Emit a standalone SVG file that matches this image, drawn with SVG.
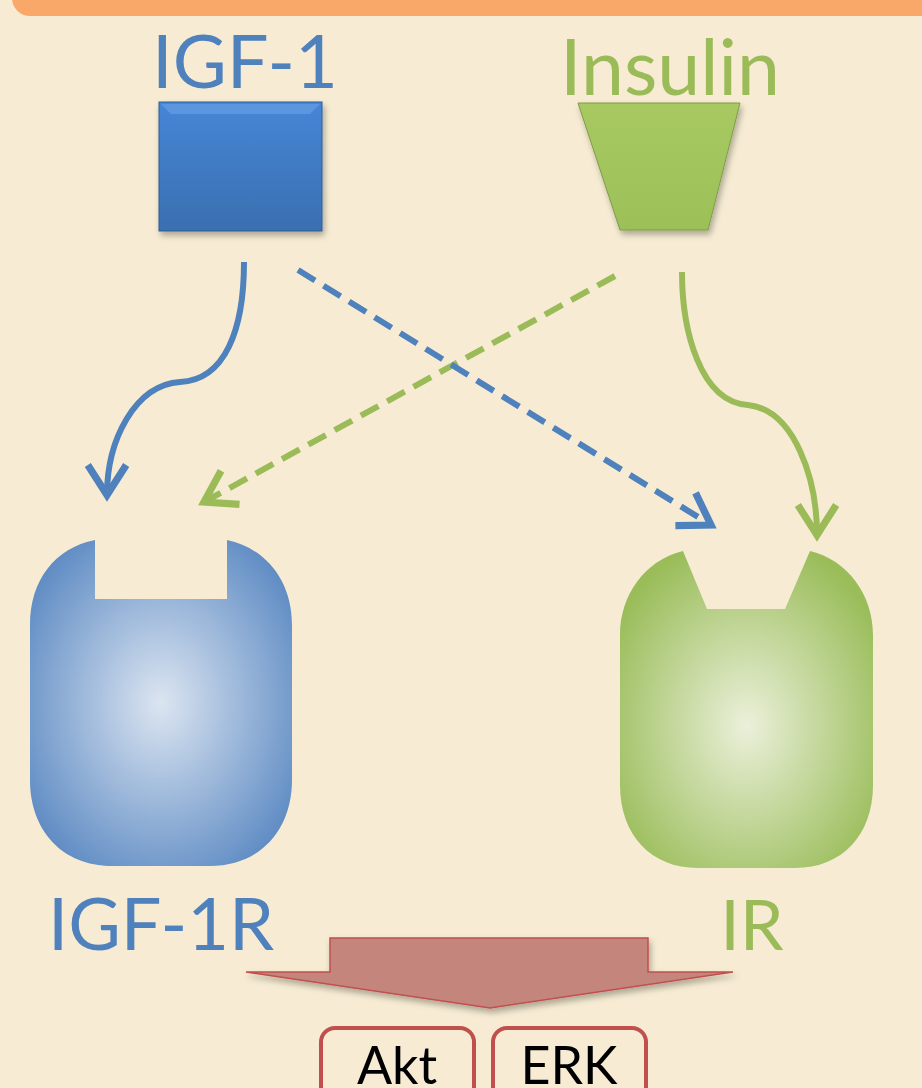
<svg xmlns="http://www.w3.org/2000/svg" width="922" height="1088" viewBox="0 0 922 1088">
<style>
.lbl{font-family:Lato,"Open Sans","Liberation Sans",sans-serif;}
.blue{fill:#4F81BD}
.green{fill:#9BBB59}
.curve{fill:none;stroke-width:6;stroke-linecap:butt}
.dash{fill:none;stroke-width:6;stroke-dasharray:20 10}
.box{fill:#F7ECD3;stroke:#C0504D;stroke-width:4}
</style>
<defs>
<radialGradient id="gb" cx="0.5" cy="0.5" r="0.6">
<stop offset="0" stop-color="#DCE5F1"/>
<stop offset="1" stop-color="#5F8CC4"/>
</radialGradient>
<radialGradient id="gg" cx="0.5" cy="0.55" r="0.6">
<stop offset="0" stop-color="#EBF0DA"/>
<stop offset="1" stop-color="#9ABD5A"/>
</radialGradient>
<linearGradient id="bl" x1="0" y1="0" x2="0" y2="1">
<stop offset="0" stop-color="#4686D6"/>
<stop offset="1" stop-color="#3A6FB0"/>
</linearGradient>
<linearGradient id="gl" x1="0" y1="0" x2="0" y2="1">
<stop offset="0" stop-color="#A8C962"/>
<stop offset="1" stop-color="#9CC058"/>
</linearGradient>
<marker id="ab" markerWidth="8" markerHeight="8" refX="6" refY="4" orient="auto" markerUnits="strokeWidth">
<path d="M1,0.8 L6,4 L1,7.2" fill="none" stroke="#4F81BD" stroke-width="1.2"/>
</marker>
<marker id="ag" markerWidth="8" markerHeight="8" refX="6" refY="4" orient="auto" markerUnits="strokeWidth">
<path d="M1,0.8 L6,4 L1,7.2" fill="none" stroke="#9BBB59" stroke-width="1.2"/>
</marker>
<filter id="sh" x="-10%" y="-10%" width="130%" height="130%">
<feDropShadow dx="2" dy="4" stdDeviation="3" flood-color="#000" flood-opacity="0.3"/>
</filter>
</defs>
<rect width="922" height="1088" fill="#F7ECD3"/>
<rect x="12" y="-40" width="940" height="56" rx="18" fill="#FAA86A"/>

<g id="igf1">
<text class="lbl blue" x="245" y="88" font-size="74" text-anchor="middle">IGF-1</text>
<rect x="159" y="102" width="163" height="129" fill="url(#bl)" stroke="#2F5E98" stroke-width="1" filter="url(#sh)"/>
<path d="M161,104 L320,104 L310,114 L171,114 Z" fill="#6BA2E6" opacity="0.6"/>
</g>
<g id="insulin">
<text class="lbl green" x="670" y="95" font-size="77" text-anchor="middle">Insulin</text>
<path d="M578,103 L740,103 L708,230 L620,230 Z" fill="url(#gl)" stroke="#7E9C44" stroke-width="1" filter="url(#sh)"/>
</g>

<g id="connectors">
<path class="curve" stroke="#4F81BD" d="M244,262 C244,330 225,380 180,382 C135,385 107,440 107,495" marker-end="url(#ab)"/>
<path class="curve" stroke="#9BBB59" d="M682,272 C682,330 700,402 748,405 C795,410 817,480 817,535" marker-end="url(#ag)"/>
<path class="dash" stroke="#9BBB59" d="M615,276 L204,502" marker-end="url(#ag)"/>
<path class="dash" stroke="#4F81BD" d="M298,270 L711,525" marker-end="url(#ab)"/>
</g>

<g id="igf1r">
<path d="M95,540 L95,599 L227,599 L227,540 C265,548 292,580 292,625 L292,780 C292,830 260,866 210,866 L112,866 C62,866 30,830 30,780 L30,625 C30,580 55,548 95,540 Z" fill="url(#gb)"/>
<text class="lbl blue" x="161" y="950" font-size="72" text-anchor="middle">IGF-1R</text>
</g>
<g id="ir">
<path d="M683,551 L707,609 L785,609 L810,551 C848,560 873,595 873,635 L873,785 C873,835 842,868 795,868 L698,868 C651,868 620,835 620,785 L620,635 C620,595 645,560 683,551 Z" fill="url(#gg)"/>
<text class="lbl green" x="752" y="950" font-size="70" text-anchor="middle">IR</text>
</g>

<g id="outarrow">
<path d="M330,938 L648,938 L648,972 L733,972 L490,1008 L246,972 L330,972 Z" fill="#C4857B" stroke="#C0504D" stroke-width="1.5" filter="url(#sh)"/>
</g>
<g id="akt">
<rect class="box" x="321" y="1028" width="153" height="90" rx="14"/>
<text class="lbl" x="397" y="1084" font-size="52" text-anchor="middle" fill="#000">Akt</text>
</g>
<g id="erk">
<rect class="box" x="493" y="1028" width="153" height="90" rx="14"/>
<text class="lbl" x="569" y="1084" font-size="52" text-anchor="middle" fill="#000">ERK</text>
</g>
</svg>
